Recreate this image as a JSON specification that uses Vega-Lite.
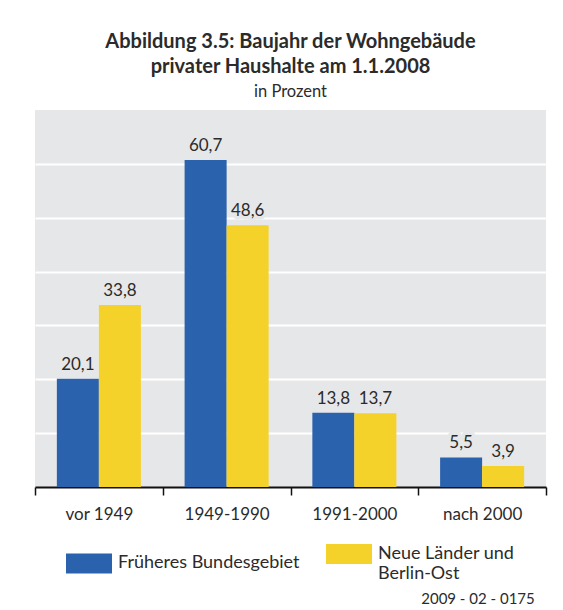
{
  "$schema": "https://vega.github.io/schema/vega-lite/v6.json",
  "padding": {"left": 34, "top": 31, "right": 18, "bottom": 0},
  "title": {
    "text": ["Abbildung 3.5: Baujahr der Wohngebäude", "privater Haushalte am 1.1.2008"],
    "subtitle": "in Prozent",
    "anchor": "middle",
    "font": "Lato",
    "fontSize": 20,
    "fontWeight": "bold",
    "color": "#2b2b2b",
    "lineHeight": 25,
    "subtitleFont": "Lato",
    "subtitleFontSize": 16.5,
    "subtitleColor": "#2b2b2b",
    "subtitlePadding": 7,
    "offset": 10
  },
  "data": {
    "values": [
      {"period": "vor 1949", "region": "Früheres Bundesgebiet", "value": 20.1},
      {"period": "vor 1949", "region": "Neue Länder und Berlin-Ost", "value": 33.8},
      {"period": "1949-1990", "region": "Früheres Bundesgebiet", "value": 60.7},
      {"period": "1949-1990", "region": "Neue Länder und Berlin-Ost", "value": 48.6},
      {"period": "1991-2000", "region": "Früheres Bundesgebiet", "value": 13.8},
      {"period": "1991-2000", "region": "Neue Länder und Berlin-Ost", "value": 13.7},
      {"period": "nach 2000", "region": "Früheres Bundesgebiet", "value": 5.5},
      {"period": "nach 2000", "region": "Neue Länder und Berlin-Ost", "value": 3.9}
    ]
  },
  "resolve": {"legend": {"color": "independent"}, "scale": {"color": "independent"}},
  "vconcat": [
    {
      "width": 511,
      "height": 377,
      "title": {
        "text": "2009 - 02 - 0175",
        "orient": "bottom",
        "anchor": "end",
        "font": "Lato",
        "fontSize": 15,
        "fontWeight": "normal",
        "color": "#2b2b2b",
        "offset": 9,
        "dx": -12
      },
      "encoding": {
        "x": {
          "field": "period",
          "type": "nominal",
          "sort": ["vor 1949", "1949-1990", "1991-2000", "nach 2000"],
          "scale": {"paddingInner": 0, "paddingOuter": 0},
          "axis": {
            "title": null,
            "tickBand": "extent",
            "labelAngle": 0,
            "labelFont": "Lato",
            "labelFontSize": 17,
            "labelColor": "#2b2b2b",
            "labelPadding": 11,
            "tickSize": 8,
            "tickWidth": 1.5,
            "tickColor": "#111111",
            "domainColor": "#111111",
            "domainWidth": 2,
            "grid": false
          }
        },
        "xOffset": {
          "field": "region",
          "type": "nominal",
          "scale": {"paddingInner": 0, "paddingOuter": 0.52}
        },
        "y": {
          "field": "value",
          "type": "quantitative",
          "scale": {"domain": [0, 70], "nice": false},
          "axis": {
            "title": null,
            "labels": false,
            "ticks": false,
            "domain": false,
            "values": [10, 20, 30, 40, 50, 60],
            "gridColor": "#ffffff",
            "gridWidth": 2
          }
        }
      },
      "layer": [
        {
          "mark": {"type": "bar"},
          "encoding": {
            "color": {
              "field": "region",
              "type": "nominal",
              "scale": {
                "domain": ["Früheres Bundesgebiet", "Neue Länder und Berlin-Ost"],
                "range": ["#2b62ad", "#f5d22a"]
              },
              "legend": {
                "title": null,
                "orient": "bottom",
                "direction": "horizontal",
                "symbolType": "M-1,-0.435L1,-0.435L1,0.435L-1,0.435Z",
                "symbolSize": 2116,
                "symbolStrokeWidth": 0,
                "labelFont": "Lato",
                "labelFontSize": 18,
                "labelColor": "#2b2b2b",
                "labelOffset": 6,
                "labelLimit": 300,
                "columnPadding": 26,
                "offset": 9,
                "labelExpr": "datum.label == 'Neue Länder und Berlin-Ost' ? ['Neue Länder und', 'Berlin-Ost'] : datum.label"
              }
            }
          }
        },
        {
          "mark": {
            "type": "text",
            "baseline": "alphabetic",
            "dy": -9,
            "font": "Lato",
            "fontSize": 17,
            "fill": "#e6e7e8",
            "stroke": "#e6e7e8",
            "strokeWidth": 7,
            "strokeJoin": "round"
          },
          "encoding": {
            "text": {"field": "value", "type": "quantitative", "format": ".1f"}
          }
        },
        {
          "mark": {
            "type": "text",
            "baseline": "alphabetic",
            "dy": -9,
            "font": "Lato",
            "fontSize": 17,
            "color": "#2b2b2b"
          },
          "encoding": {
            "text": {"field": "value", "type": "quantitative", "format": ".1f"}
          }
        }
      ]
    }
  ],
  "config": {
    "font": "Lato",
    "view": {"fill": "#e6e7e8", "stroke": null},
    "legend": {"layout": {"bottom": {"anchor": "middle"}}},
    "locale": {
      "number": {"decimal": ",", "thousands": ".", "grouping": [3], "currency": ["", " €"]}
    }
  }
}
